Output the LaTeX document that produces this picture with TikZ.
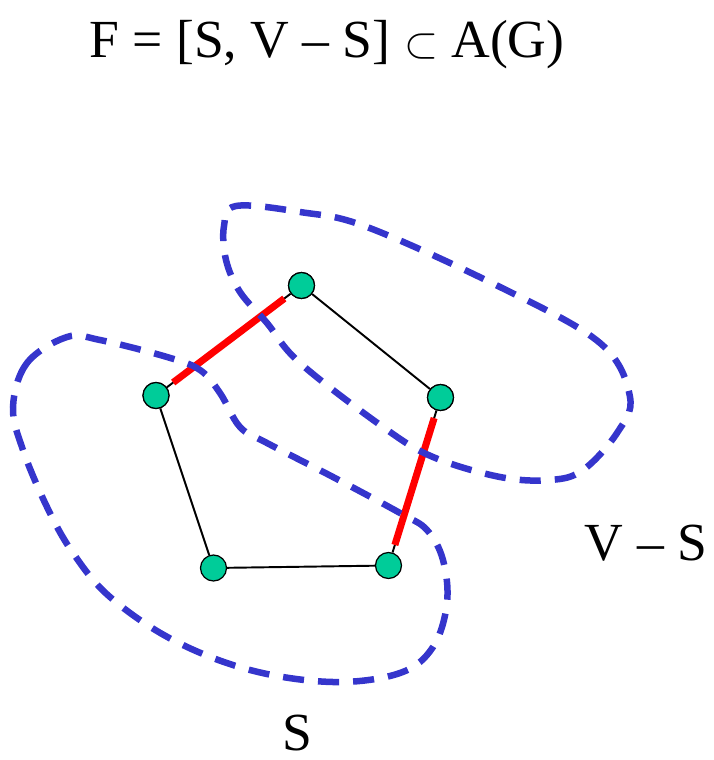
\documentclass[tikz,border=0pt]{standalone}
\usepackage{fontspec}
\setmainfont{Liberation Serif}
\usetikzlibrary{positioning}

\definecolor{vertexgreen}{RGB}{0,204,153}
\definecolor{setblue}{RGB}{53,53,204}

\begin{document}
\begin{tikzpicture}[x=0.02cm, y=-0.02cm,
    vertex/.style={circle, draw=black, line width=0.7pt, fill=vertexgreen,
                   minimum size=0.52cm, inner sep=0pt},
    edge/.style={black, line width=1.1pt},
    cutedge/.style={red, line width=4pt, shorten <=4.5pt, shorten >=4.5pt},
    setline/.style={setblue, line width=3.7pt, dash pattern=on 12pt off 8pt},
    lbl/.style={font=\fontsize{30.5}{36}\selectfont, inner sep=0pt}]
    \useasboundingbox (0,0) rectangle (713,760);

    \node[lbl] (title) at (327,45) {F = [S, V – S] $\subset$ A(G)};

    \node[vertex] (top) at (301.5,285.5) {};
    \node[vertex] (left) at (156,395.5) {};
    \node[vertex] (right) at (440.5,397.5) {};
    \node[vertex, draw=none, fill=none] (bl) at (213.5,568) {};
    \node[vertex, draw=none, fill=none] (br) at (388.5,565.5) {};

    \draw[edge] (top) -- (right);
    \draw[edge] (left) -- (bl);
    \draw[edge] (bl) -- (br);
    \draw[edge] (left) -- (top);
    \draw[edge] (right) -- (br);
    \draw[cutedge] (left) -- (top);
    \draw[cutedge] (right) -- (br);

    % the two vertex sets
    \draw[setline] plot[smooth cycle, tension=0.6] coordinates {
        (236,206) (300,212) (367,227) (500,287) (600,343) (630,397) (617,433)
        (583,470) (550,480) (500,477) (433,457) (383,427) (300,363) (267,323)
        (240,292) (226,260) (224,226)};
    \draw[setline] plot[smooth cycle, tension=0.6] coordinates {
        (67,337) (27,363) (13,407) (23,450) (47,507) (73,553) (110,597)
        (173,640) (250,670) (333,682) (400,673) (433,647) (447,603) (443,560)
        (427,530) (400,513) (333,477) (267,443) (240,427) (220,393) (200,370)
        (167,357) (100,340)};

    \node[vertex] at (bl) {};
    \node[vertex] at (br) {};
    \node[vertex] at (top) {};
    \node[vertex] at (left) {};
    \node[vertex] at (right) {};

    \node[lbl] (vs) at (646,543) {V – S};
    \node[lbl] (s) at (297,733) {S};
\end{tikzpicture}
\end{document}
